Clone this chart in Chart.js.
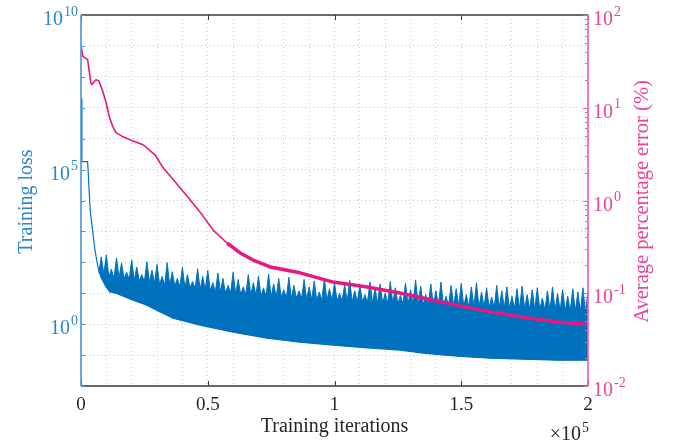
<!DOCTYPE html>
<html>
<head>
<meta charset="utf-8">
<script src="https://cdn.jsdelivr.net/npm/chart.js@4.4.1/dist/chart.umd.min.js"></script>
<style>
html, body { margin: 0; padding: 0; background: #fff; }
#wrap { width: 673px; height: 446px; position: relative; }
</style>
</head>
<body>
<div id="wrap"><canvas id="lossChart"></canvas></div>
<script>
"use strict";

// training loss, lower edge of the noisy band (and the initial drop)
const lossLowIters = [0, 350, 2600, 2800, 3200, 3600, 4700, 5500, 6700, 7900,
    9900, 11400, 13800, 20500, 26000, 30000, 36300, 47000, 60000, 73400,
    86400, 99500, 112900, 125900, 135000, 148400, 161400, 174500, 187900, 200000];
const lossLowValues = [2e7, 1.8e5, 1.8e5, 1e5, 2.2e4, 5000, 900, 250, 70, 33,
    16, 11, 10, 6, 4.1, 2.8, 1.56, 0.93, 0.55, 0.35,
    0.26, 0.21, 0.17, 0.145, 0.115, 0.092, 0.079, 0.074, 0.068, 0.068];

// training loss, top of the solid part of the band
const lossDenseIters = [7000, 10000, 15000, 20000, 25000, 30000, 35000, 40000, 45000, 50000,
    55000, 60000, 65000, 70000, 75000, 80000, 85000, 90000, 95000, 100000,
    105000, 110000, 115000, 120000, 125000, 130000, 135000, 140000, 145000, 150000,
    155000, 160000, 165000, 170000, 175000, 180000, 185000, 190000, 195000, 200000];
const lossDenseValues = [50, 40, 33, 30, 27, 22, 20, 18, 16.5, 14,
    12, 11, 10.5, 9.5, 8.7, 8.3, 7.8, 7.3, 6.9, 6.6,
    6.3, 6, 5.8, 5.5, 5.3, 5.1, 4.9, 4.7, 4.6, 4.4,
    4.2, 4, 3.9, 3.7, 3.6, 3.4, 3.3, 3.2, 3.1, 3.0];

// training loss spikes, one value every 1000 iterations from 7000
const BAND_START = 7000;
const BAND_STEP = 1000;
const lossSpikeValues = [
    45, 150, 42,
    175, 34, 60, 30, 140, 32, 95, 30, 48, 28,
    120, 26, 70, 25, 40, 24, 105, 23, 55, 22,
    85, 19, 35, 18, 98, 18, 50, 17, 30, 16,
    70, 15, 40, 14, 24, 14, 62, 13, 35, 13,
    55, 12, 22, 11, 45, 11, 30, 10, 18, 10,
    48, 9.5, 28, 9, 16, 9, 40, 8.5, 22, 8.5,
    36, 8, 15, 7.8, 42, 7.6, 20, 7.4, 30, 7.2,
    13, 7, 33, 6.8, 18, 6.6, 12, 6.5, 28, 6.4,
    16, 6.2, 25, 6, 11, 5.9, 30, 5.8, 14, 5.7,
    22, 5.6, 10, 5.5, 19, 5.4, 26, 5.3, 12, 5.2,
    18, 5.1, 9, 5, 23, 5, 14, 4.9, 20, 4.8,
    10, 4.7, 24, 4.6, 15, 4.6, 8.5, 4.5, 21, 4.4,
    13, 4.3, 27, 4.2, 17, 4.2, 9, 4.1, 20, 4,
    12, 4, 23, 3.9, 8, 3.9, 18, 3.8, 14, 3.8,
    21, 3.7, 9, 3.6, 16, 3.6, 22, 3.5, 11, 3.5,
    15, 3.4, 7.5, 3.4, 18, 3.3, 12, 3.3, 16, 3.2,
    8, 3.2, 14, 3.1, 17, 3.1, 9, 3, 13, 3,
    15, 2.9, 7, 2.9, 12, 2.8, 16, 2.8, 10, 2.7,
    13, 2.7, 8, 2.6, 14, 2.6, 11, 2.5, 15, 2.5,
    12
];

// average percentage error (%)
const errIters = [0, 700, 2600, 3900, 4300, 5900, 7000, 8600, 9900, 11100,
    12500, 13800, 16600, 19300, 24500, 29200, 32400, 39100, 43000, 47800,
    52100, 57600, 62800, 67900, 74600, 86400, 99500, 112900, 124700, 135000,
    148400, 161400, 174500, 187900, 200000];
const errValues = [46, 36, 33, 18.5, 17.8, 20, 19.6, 15, 11.4, 8.1,
    6.3, 5.4, 4.86, 4.52, 3.99, 3.11, 2.25, 1.37, 1.02, 0.70,
    0.48, 0.348, 0.272, 0.228, 0.192, 0.166, 0.132, 0.117, 0.102, 0.089,
    0.074, 0.063, 0.055, 0.049, 0.046];

// ticks
const xTickValues = [0, 50000, 100000, 150000, 200000];
const xTickLabels = ['0', '0.5', '1', '1.5', '2'];
const lossDecades = [1e-2, 1e-1, 1e0, 1e1, 1e2, 1e3, 1e4, 1e5, 1e6, 1e7, 1e8, 1e9, 1e10];
const lossLabelExps = [0, 5, 10];
const errLabelExps = [-2, -1, 0, 1, 2];

const BLUE = '#0072BD';
const BLUE_AXIS = '#2b86cb';
const PINK = '#e5197f';
const PINK_AXIS = '#e8449a';
const DARK = '#262626';
const SERIF = '"Liberation Serif", "DejaVu Serif", serif';

const lossLow = lossLowIters.map((it, i) => ({x: it, y: lossLowValues[i]}));
const lossDense = lossDenseIters.map((it, i) => ({x: it, y: lossDenseValues[i]}));
const lossSpikes = lossSpikeValues.map((v, i) => ({x: BAND_START + i * BAND_STEP, y: v}));
const errData = errIters.map((it, i) => ({x: it, y: errValues[i]}));

function drawPow(ctx, exp, x, y, align) {
    const baseFont = '20px ' + SERIF;
    const expFont = '14px ' + SERIF;
    ctx.font = baseFont;
    const wBase = ctx.measureText('10').width;
    ctx.font = expFont;
    const wExp = ctx.measureText(String(exp)).width;
    const left = align === 'right' ? x - wBase - wExp - 1 : x;
    ctx.textAlign = 'left';
    ctx.textBaseline = 'alphabetic';
    ctx.font = baseFont;
    ctx.fillText('10', left, y + 10);
    ctx.font = expFont;
    ctx.fillText(String(exp), left + wBase + 1, y + 0.5);
}

const axisDecor = {
    id: 'axisDecor',
    afterDraw(chart) {
        const {ctx, chartArea: a, scales} = chart;
        const x = scales.x, y = scales.y, y2 = scales.y2;
        ctx.save();

        // box
        ctx.lineWidth = 1.3;
        ctx.strokeStyle = '#3c3c3c';
        ctx.beginPath();
        ctx.moveTo(a.left, a.top); ctx.lineTo(a.right, a.top);
        ctx.moveTo(a.left, a.bottom); ctx.lineTo(a.right, a.bottom);
        ctx.stroke();
        // x major ticks (inward, bottom and top)
        ctx.lineWidth = 1;
        ctx.beginPath();
        xTickValues.forEach(v => {
            const px = Math.round(x.getPixelForValue(v)) + 0.5;
            ctx.moveTo(px, a.bottom); ctx.lineTo(px, a.bottom - 5);
            ctx.moveTo(px, a.top); ctx.lineTo(px, a.top + 5);
        });
        ctx.stroke();

        // left axis
        ctx.strokeStyle = '#4896d3';
        ctx.lineWidth = 1.6;
        ctx.beginPath();
        ctx.moveTo(a.left, a.top); ctx.lineTo(a.left, a.bottom);
        ctx.stroke();
        ctx.lineWidth = 1;
        ctx.beginPath();
        lossDecades.forEach(v => {
            const py = Math.round(y.getPixelForValue(v)) + 0.5;
            ctx.moveTo(a.left, py); ctx.lineTo(a.left + 4, py);
        });
        ctx.stroke();

        // right axis
        ctx.strokeStyle = '#ec5fa6';
        ctx.lineWidth = 1.6;
        ctx.beginPath();
        ctx.moveTo(a.right, a.top); ctx.lineTo(a.right, a.bottom);
        ctx.stroke();
        ctx.lineWidth = 1;
        ctx.beginPath();
        errLabelExps.forEach(e => {
            for (let m = 1; m <= 9; m++) {
                const v = m * Math.pow(10, e);
                if (v > 100) break;
                const py = Math.round(y2.getPixelForValue(v)) + 0.5;
                const len = m === 1 ? 5 : 3;
                ctx.moveTo(a.right, py); ctx.lineTo(a.right - len, py);
            }
        });
        ctx.stroke();

        // x tick labels
        ctx.fillStyle = DARK;
        ctx.font = '19px ' + SERIF;
        ctx.textAlign = 'center';
        ctx.textBaseline = 'alphabetic';
        xTickValues.forEach((v, i) => {
            ctx.fillText(xTickLabels[i], x.getPixelForValue(v), a.bottom + 24);
        });
        // x title and exponent
        ctx.font = '20px ' + SERIF;
        ctx.fillText('Training iterations', (a.left + a.right) / 2, a.bottom + 46);
        ctx.textAlign = 'left';
        const wTimes = ctx.measureText('×10').width;
        ctx.font = '14px ' + SERIF;
        const wFive = ctx.measureText('5').width;
        const xl = a.right - wTimes - wFive;
        ctx.font = '20px ' + SERIF;
        ctx.fillText('×10', xl, a.bottom + 54);
        ctx.font = '14px ' + SERIF;
        ctx.fillText('5', xl + wTimes + 1, a.bottom + 46);

        // left labels
        ctx.fillStyle = BLUE_AXIS;
        lossLabelExps.forEach(e => {
            drawPow(ctx, e, a.left - 3, y.getPixelForValue(Math.pow(10, e)), 'right');
        });
        // right labels
        ctx.fillStyle = PINK_AXIS;
        errLabelExps.forEach(e => {
            drawPow(ctx, e, a.right + 5, y2.getPixelForValue(Math.pow(10, e)), 'left');
        });

        // y titles
        ctx.font = '20px ' + SERIF;
        ctx.textAlign = 'center';
        ctx.fillStyle = BLUE_AXIS;
        ctx.save();
        ctx.translate(32, (a.top + a.bottom) / 2 + 1);
        ctx.rotate(-Math.PI / 2);
        ctx.fillText('Training loss', 0, 0);
        ctx.restore();
        ctx.fillStyle = PINK_AXIS;
        ctx.save();
        ctx.translate(648, (a.top + a.bottom) / 2 + 1);
        ctx.rotate(-Math.PI / 2);
        ctx.font = '20.5px ' + SERIF;
        ctx.fillText('Average percentage error (%)', 0, 0);
        ctx.restore();

        ctx.restore();
    }
};

const ctx = document.getElementById('lossChart').getContext('2d');

new Chart(ctx, {
    type: 'line',
    data: {
        datasets: [{
            label: 'Average percentage error',
            data: errData,
            yAxisID: 'y2',
            borderColor: PINK,
            borderJoinStyle: 'round',
            segment: {
                borderWidth: c => c.p0.parsed.x >= 57000 ? 3.5 : 1.6,
            },
            pointRadius: 0,
            fill: false,
            order: 0,
        }, {
            label: 'Training loss (low)',
            data: lossLow,
            yAxisID: 'y',
            borderColor: BLUE,
            borderWidth: 1.2,
            pointRadius: 0,
            fill: false,
            order: 3,
        }, {
            label: 'Training loss (dense)',
            data: lossDense,
            yAxisID: 'y',
            borderColor: BLUE,
            backgroundColor: BLUE,
            borderWidth: 1,
            pointRadius: 0,
            fill: 1,
            order: 2,
        }, {
            label: 'Training loss (spikes)',
            data: lossSpikes,
            yAxisID: 'y',
            borderColor: BLUE,
            backgroundColor: BLUE,
            borderWidth: 1,
            pointRadius: 0,
            fill: 1,
            order: 1,
        }]
    },
    options: {
        responsive: true,
        maintainAspectRatio: false,
        animation: false,
        layout: {
            padding: {left: 81, right: 85, top: 15, bottom: 60}
        },
        plugins: {
            legend: {display: false},
            tooltip: {enabled: false},
        },
        scales: {
            x: {
                type: 'linear',
                min: 0,
                max: 200000,
                ticks: {display: false, stepSize: 10000},
                grid: {color: '#cccccc', lineWidth: 1, drawTicks: false},
                border: {display: false, dash: [1, 3]},
            },
            y: {
                type: 'logarithmic',
                position: 'left',
                min: 1e-2,
                max: 1e10,
                afterBuildTicks: scale => {
                    scale.ticks = lossDecades.map(v => ({value: v}));
                },
                ticks: {display: false},
                grid: {color: '#a3c8e8', lineWidth: 1, drawTicks: false},
                border: {display: false, dash: [1, 3]},
            },
            y2: {
                type: 'logarithmic',
                position: 'right',
                min: 1e-2,
                max: 1e2,
                ticks: {display: false},
                grid: {display: false, drawTicks: false},
                border: {display: false},
            },
        },
    },
    plugins: [axisDecor]
});
</script>
</body>
</html>
